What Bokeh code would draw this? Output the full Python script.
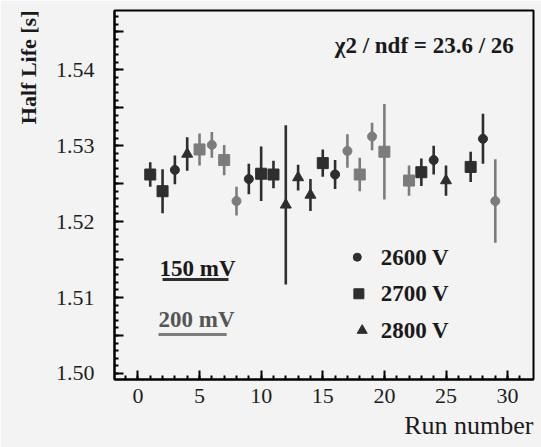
from bokeh.plotting import figure
from bokeh.models import (Range1d, FixedTicker, CustomJSTickFormatter,
                          Label, ColumnDataSource, Title)
from bokeh.embed import file_html
from bokeh.resources import INLINE

# ---- data ----
runs = [1, 2, 3, 4, 5, 6, 7, 8, 9, 10, 11, 12, 13, 14, 15, 16, 17, 18, 19, 20,
        22, 23, 24, 25, 27, 28, 29]
half_life = [1.5262, 1.5240, 1.5268, 1.5289, 1.5295, 1.5301, 1.5281, 1.5227, 1.5256,
             1.5263, 1.5262, 1.5222, 1.5258, 1.5235, 1.5277, 1.5262, 1.5293, 1.5262,
             1.5312, 1.5292, 1.5254, 1.5265, 1.5281, 1.5254, 1.5272, 1.5309, 1.5227]
errors = [0.0016, 0.0029, 0.0019, 0.0022, 0.0021, 0.0017, 0.0020, 0.0019, 0.0020,
          0.0036, 0.0018, 0.0105, 0.0017, 0.0021, 0.0018, 0.0019, 0.0022, 0.0022,
          0.0018, 0.0063, 0.0020, 0.0018, 0.0019, 0.0020, 0.0020, 0.0033, 0.0055]
voltage = [2700, 2700, 2600, 2800, 2700, 2600, 2700, 2600, 2600, 2700, 2700, 2800,
           2800, 2800, 2700, 2600, 2600, 2700, 2600, 2700, 2700, 2700, 2600, 2800,
           2700, 2600, 2600]
threshold_mv = [150, 150, 150, 150, 200, 200, 200, 200, 150, 150, 150, 150, 150, 150,
                150, 150, 200, 200, 200, 200, 200, 150, 150, 150, 150, 150, 200]

voltage_labels = ["2600 V", "2700 V", "2800 V"]
threshold_labels = ["150 mV", "200 mV"]
x_ticks = [0, 5, 10, 15, 20, 25, 30]
y_ticks = [1.50, 1.505, 1.51, 1.515, 1.52, 1.525, 1.53, 1.535, 1.54, 1.545]
fit_text = "\u03c72 / ndf = 23.6 / 26"
x_title = "Run number"
y_title = "Half Life [s]"

# ---- styles ----
DARK = "#2e2e2e"
GREY = "#7c7c7c"
marker_of = {2600: "circle", 2700: "square", 2800: "triangle"}
size_of = {2600: 9, 2700: 11, 2800: 11}
color_of = {150: DARK, 200: GREY}
SERIF = "Liberation Serif"
BG = "#f3f3f3"

src = ColumnDataSource(dict(
    x=runs, y=half_life,
    lo=[v - e for v, e in zip(half_life, errors)],
    hi=[v + e for v, e in zip(half_life, errors)],
    marker=[marker_of[v] for v in voltage],
    size=[size_of[v] for v in voltage],
    color=[color_of[t] for t in threshold_mv],
))

p = figure(width=541, height=447, output_backend="svg", toolbar_location=None,
           x_range=Range1d(-1.9, 32.1), y_range=Range1d(1.4992, 1.5478),
           min_border_left=114, min_border_right=8, min_border_top=10, min_border_bottom=68,
           background_fill_color=BG, border_fill_color=BG)
p.outline_line_color = "black"
p.outline_line_width = 2
p.xgrid.visible = False
p.ygrid.visible = False

# error bars and markers
p.segment(x0="x", y0="lo", x1="x", y1="hi", source=src, line_color="color", line_width=2.6)
p.scatter(x="x", y="y", marker="marker", size="size", source=src,
          fill_color="color", line_color="color")

# axes
for ax in (p.xaxis[0], p.yaxis[0]):
    ax.axis_line_width = 2
    ax.axis_line_color = "black"
    ax.major_tick_in = 9
    ax.major_tick_out = 0
    ax.minor_tick_in = 4
    ax.minor_tick_out = 0
    ax.major_tick_line_width = 2
    ax.minor_tick_line_width = 2
    ax.major_tick_line_color = "black"
    ax.minor_tick_line_color = "black"
    ax.major_label_text_font = SERIF
    ax.major_label_text_font_size = "22px"
    ax.major_label_text_color = "#1e1e1e"

p.xaxis.ticker = FixedTicker(ticks=x_ticks, minor_ticks=list(range(-1, 32)))
p.xaxis.major_label_standoff = 9

y_minor = [round(1.499 + 0.001 * i, 3) for i in range(50)]
p.yaxis.ticker = FixedTicker(ticks=y_ticks, minor_ticks=y_minor)
p.yaxis.formatter = CustomJSTickFormatter(code="""
    const k = Math.round(tick * 1000);
    return (k % 10 === 0) ? tick.toFixed(2) : "";
""")
p.yaxis.major_label_standoff = 20

# axis titles as side titles (aligned to the far ends, as in the reference)
p.add_layout(Title(text=x_title, align="right", text_font=SERIF, text_font_size="26px",
                   text_font_style="normal", text_color="#1a1a1a", standoff=7), "below")
p.add_layout(Title(text=y_title, align="right", text_font=SERIF, text_font_size="22px",
                   text_font_style="bold", text_color="#1a1a1a", standoff=24), "left")

# texts inside the frame
def lab(x, y, text, size, bold=False, align="left", baseline="alphabetic",
        color="#1a1a1a"):
    p.add_layout(Label(x=x, y=y, text=text, text_font=SERIF, text_font_size=size,
                       text_font_style="bold" if bold else "normal", text_align=align,
                       text_baseline=baseline, text_color=color))

lab(30.5, 1.5432, fit_text, "23px", bold=True, align="right", baseline="middle")

# threshold legend (text + underline)
lab(1.75, 1.5138, threshold_labels[0], "23px", bold=True)
p.line(x=[2.0, 7.35], y=[1.51237, 1.51237], line_color=DARK, line_width=3)
lab(1.67, 1.5071, threshold_labels[1], "23px", bold=True, color="#555555")
p.line(x=[1.67, 7.2], y=[1.50513, 1.50513], line_color=GREY, line_width=3)

# voltage legend
leg_y = [1.51531, 1.51049, 1.50566]
leg_x = [17.8, 17.93, 18.2]
for v, lx, ly, t in zip([2600, 2700, 2800], leg_x, leg_y, voltage_labels):
    p.scatter(x=[lx], y=[ly], marker=marker_of[v], size=size_of[v] - 1,
              fill_color=DARK, line_color=DARK)
    lab(19.7, ly, t, "23px", bold=True, baseline="middle")

open("out.html", "w").write(file_html(p, INLINE))
